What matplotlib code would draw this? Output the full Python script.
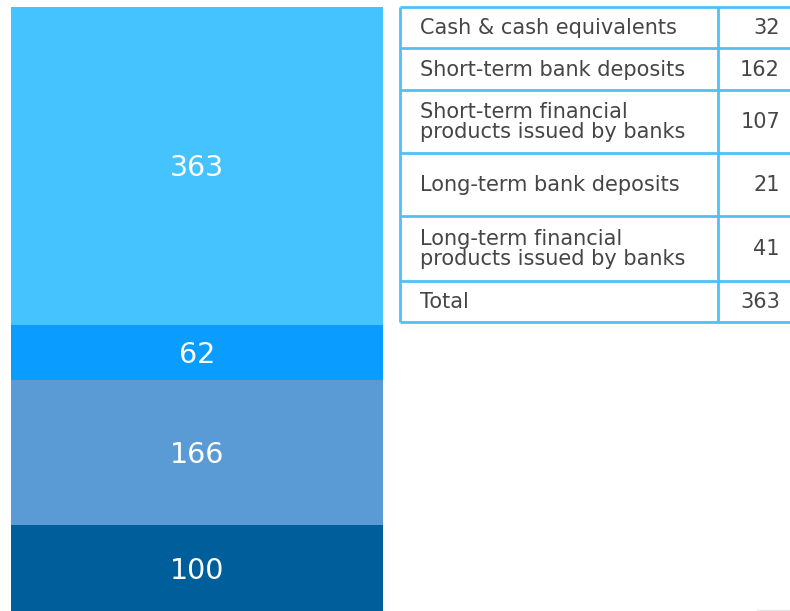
import matplotlib
matplotlib.use("Agg")
import matplotlib.pyplot as plt

# stacked bar, bottom to top
bar_values = [100, 166, 62, 363]
bar_colors = ["#005F9B", "#5B9BD5", "#0A9DFF", "#45C3FF"]

# breakdown table of the top segment
table_labels = [
    "Cash & cash equivalents",
    "Short-term bank deposits",
    "Short-term financial\nproducts issued by banks",
    "Long-term bank deposits",
    "Long-term financial\nproducts issued by banks",
    "Total",
]
table_values = [32, 162, 107, 21, 41, 363]

plt.rcParams["font.family"] = ["DejaVu Sans"]

W, H = 790, 611
fig = plt.figure(figsize=(W / 100, H / 100), dpi=100)

# bar axes
ax = fig.add_axes([11 / W, 0, 372 / W, 1])
bottom = 0
for val, col in zip(bar_values, bar_colors):
    ax.bar(0, val, bottom=bottom, width=1.0, color=col, linewidth=0)
    ax.text(0, bottom + val / 2 - 2.5, str(val), ha="center", va="center",
            color="white", fontsize=20.5)
    bottom += val
ax.set_xlim(-0.5, 0.5)
ax.set_ylim(2.3, 699)
ax.axis("off")

# table overlay in pixel coordinates
tx = fig.add_axes([0, 0, 1, 1])
tx.set_xlim(0, W)
tx.set_ylim(H, 0)
tx.axis("off")

line_col = "#4FC1F5"
row_edges = [7, 48, 90, 153, 216, 281, 322]
left, mid, right = 400, 718, 792
for y in row_edges:
    tx.plot([left, right], [y, y], color=line_col, lw=2, solid_capstyle="butt")
for x in (left, mid):
    tx.plot([x, x], [row_edges[0], row_edges[-1]], color=line_col, lw=2,
            solid_capstyle="butt")

text_col = "#464646"
for i, (lab, val) in enumerate(zip(table_labels, table_values)):
    yc = (row_edges[i] + row_edges[i + 1]) / 2 + 0.5
    tx.text(420, yc, lab, ha="left", va="center", color=text_col,
            fontsize=15, linespacing=1.02)
    tx.text(780, yc, str(val), ha="right", va="center", color=text_col,
            fontsize=15)

# faint mark bottom-right
tx.plot([757, 790], [610, 610], color="#E6E6E6", lw=1)

fig.savefig("out.png", dpi=100)
